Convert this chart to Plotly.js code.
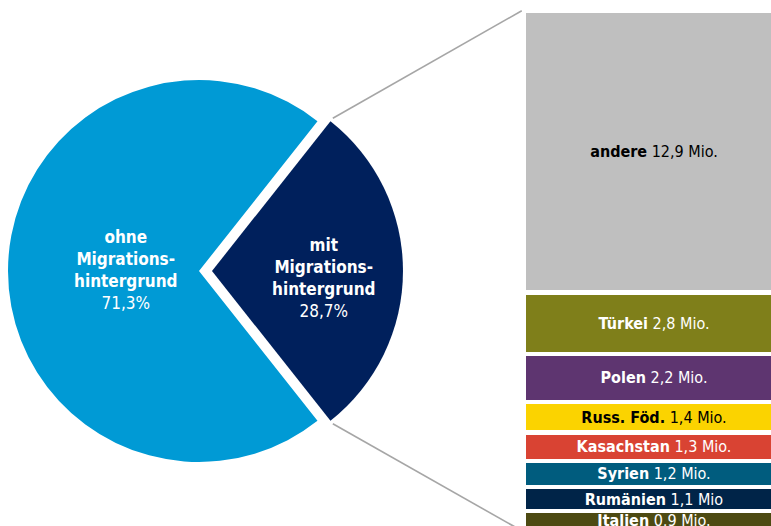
<!DOCTYPE html>
<html>
<head>
<meta charset="utf-8">
<script src="https://cdn.plot.ly/plotly-3.0.1.min.js"></script>
<style>
html,body{margin:0;padding:0;overflow:hidden;background:#fff;width:771px;height:526px;}
#chart{position:absolute;left:-20px;top:0;width:820px;height:560px;}
</style>
</head>
<body>
<div id="chart"></div>
<script>
// ---- data ----
var pieLabels = ['mit Migrationshintergrund', 'ohne Migrationshintergrund'];
var pieValues = [28.7, 71.3];
var pieText = ['<b>mit<br>Migrations-<br>hintergrund</b><br>28,7%',
               '<b>ohne<br>Migrations-<br>hintergrund</b><br>71,3%'];
var pieColors = ['#00205c', '#009ad5'];

// countries, bottom of stack first
var countries = ['Italien', 'Rumänien', 'Syrien', 'Kasachstan', 'Russ. Föd.', 'Polen', 'Türkei', 'andere'];
var countryValues = [0.9, 1.1, 1.2, 1.3, 1.4, 2.2, 2.8, 12.9];
var countryValueLabels = ['0,9 Mio.', '1,1 Mio', '1,2 Mio.', '1,3 Mio.', '1,4 Mio.', '2,2 Mio.', '2,8 Mio.', '12,9 Mio.'];
var countryColors = ['#4d4a12', '#002448', '#005c7e', '#d94333', '#fbd300', '#5e3570', '#7f7f1a', '#bfbfbf'];
var countryTextColors = ['#ffffff', '#ffffff', '#ffffff', '#ffffff', '#000000', '#ffffff', '#ffffff', '#000000'];

// ---- geometry (figure pixels) ----
var W = 820, H = 560;
var FONT = "'DejaVu Sans Condensed', 'Liberation Sans', sans-serif";
var pie = {cx: 219, cy: 271, r: 191, pull: 0.068};
var half = pie.r * (1 + pie.pull);
var bar = {x0: 543.75, x1: 804.25, base: 530.8, pxPerUnit: 21.85, gap: 4.5};

var total = countryValues.reduce(function (a, b) { return a + b; }, 0);
var halfAngle = pieValues[0] / (pieValues[0] + pieValues[1]) * Math.PI; // radians
var rotationDeg = 90 - halfAngle * 180 / Math.PI;
var apexX = pie.cx + pie.pull * pie.r;

function px(x) { return x / W; }
function py(y) { return 1 - y / H; }

var traces = [];
traces.push({
  type: 'pie',
  labels: pieLabels,
  values: pieValues,
  textinfo: 'none',
  marker: {colors: pieColors, line: {width: 0}},
  sort: false,
  direction: 'clockwise',
  rotation: rotationDeg,
  pull: [pie.pull, 0],
  hoverinfo: 'none',
  showlegend: false,
  domain: {x: [(pie.cx - half) / W, (pie.cx + half) / W],
           y: [(H - pie.cy - half) / H, (H - pie.cy + half) / H]}
});

countries.forEach(function (c, i) {
  traces.push({
    type: 'bar',
    x: ['Herkunft'],
    y: [countryValues[i]],
    name: c,
    text: ['<b>' + c + '</b> ' + countryValueLabels[i]],
    textposition: 'inside',
    insidetextanchor: 'middle',
    textangle: 0,
    constraintext: 'none',
    textfont: {family: FONT, size: 16, color: countryTextColors[i]},
    marker: {color: countryColors[i], line: {color: '#ffffff', width: bar.gap}},
    hoverinfo: 'none',
    showlegend: false,
    cliponaxis: false
  });
});

// slice labels, placed inside each slice relative to the pie geometry
var labelPos = [
  {x: apexX + 0.584 * pie.r, y: pie.cy + 6.5},   // mit (pulled slice)
  {x: pie.cx - 0.387 * pie.r, y: pie.cy - 1.5}   // ohne
];
var annotations = pieText.map(function (t, i) {
  return {
    xref: 'paper', yref: 'paper', x: px(labelPos[i].x), y: py(labelPos[i].y),
    xanchor: 'center', yanchor: 'middle', showarrow: false, align: 'center',
    text: t, font: {family: FONT, size: 17, color: '#ffffff'}
  };
});

// connector lines from the pulled slice corners to the bar's corners
var cornerR = pie.r * 1.02;
var sx = apexX + cornerR * Math.cos(halfAngle);
var syTop = pie.cy - cornerR * Math.sin(halfAngle);
var syBot = pie.cy + cornerR * Math.sin(halfAngle);
var ex = bar.x0 - 2;
var eyTop = bar.base - total * bar.pxPerUnit;
var eyBot = bar.base;
var shapes = [
  {type: 'line', xref: 'paper', yref: 'paper', x0: px(sx), y0: py(syTop), x1: px(ex), y1: py(eyTop),
   line: {color: '#a6a6a6', width: 1.6}},
  {type: 'line', xref: 'paper', yref: 'paper', x0: px(sx), y0: py(syBot), x1: px(ex), y1: py(eyBot),
   line: {color: '#a6a6a6', width: 1.6}}
];

var layout = {
  width: W, height: H,
  margin: {l: 0, r: 0, t: 0, b: 0, pad: 0},
  paper_bgcolor: '#ffffff',
  plot_bgcolor: 'rgba(0,0,0,0)',
  barmode: 'stack',
  bargap: 0,
  showlegend: false,
  xaxis: {domain: [bar.x0 / W, bar.x1 / W], visible: false, fixedrange: true},
  yaxis: {domain: [0, 1], visible: false, fixedrange: true,
          range: [(bar.base - H) / bar.pxPerUnit, bar.base / bar.pxPerUnit]},
  shapes: shapes,
  annotations: annotations,
  font: {family: FONT}
};

Plotly.newPlot('chart', traces, layout, {displayModeBar: false, staticPlot: true});
</script>
</body>
</html>
